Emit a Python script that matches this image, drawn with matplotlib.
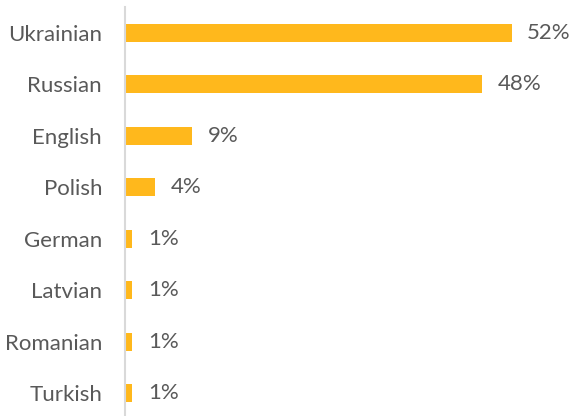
import matplotlib.pyplot as plt

plt.rcParams['font.family'] = ['Lato', 'DejaVu Sans']

languages = ['Ukrainian', 'Russian', 'English', 'Polish',
             'German', 'Latvian', 'Romanian', 'Turkish']
shares = [52, 48, 9, 4, 1, 1, 1, 1]
share_labels = ['52%', '48%', '9%', '4%', '1%', '1%', '1%', '1%']

bar_color = '#FFB81C'
text_color = '#595959'

fig = plt.figure(figsize=(5.71, 4.16), dpi=100)
ax = fig.add_axes([125 / 571, 0, 446 / 571, (416 - 7.3) / 416])

y = range(len(languages))
ax.barh(y, shares, height=0.35, color=bar_color)

for yi, val, lab in zip(y, shares, share_labels):
    ax.text(val + 2.1, yi, lab, va='center', ha='left',
            fontsize=16, color=text_color)

ax.set_xlim(0, 60)
ax.set_ylim(-0.5 + 408.7 / 51.43, -0.5)
ax.set_yticks(list(y))
ax.set_yticklabels(languages, fontsize=16, color=text_color)
ax.tick_params(axis='y', length=0, pad=16.5)
ax.set_xticks([])

for side in ['top', 'right', 'bottom']:
    ax.spines[side].set_visible(False)
ax.spines['left'].set_color('#D9D9D9')
ax.spines['left'].set_linewidth(1.5)

fig.savefig('out.png', dpi=100)
